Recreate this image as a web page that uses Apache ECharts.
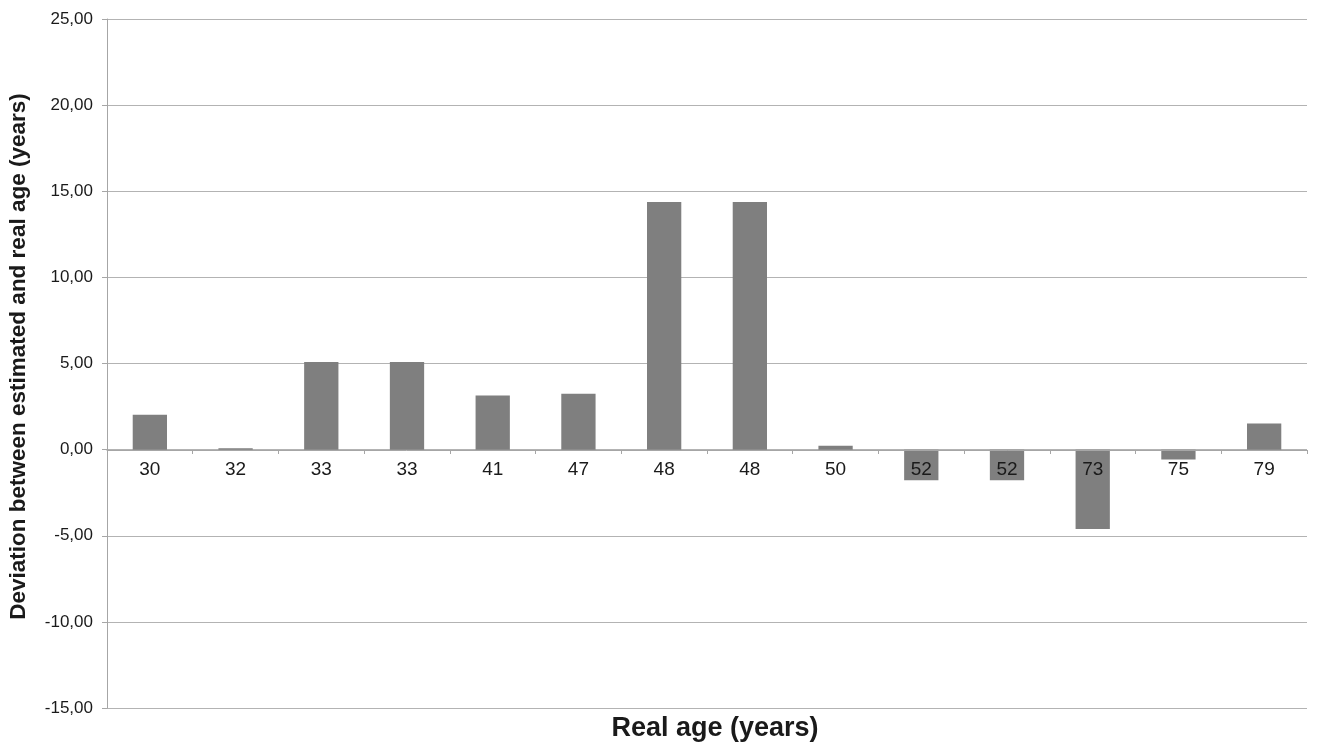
<!DOCTYPE html>
<html>
<head>
<meta charset="utf-8">
<script src="https://cdn.jsdelivr.net/npm/echarts@6/dist/echarts.min.js"></script>
<style>html,body{margin:0;padding:0;background:#fff}#c{width:1326px;height:745px}</style>
</head>
<body>
<div id="c"></div>
<script>
const categories = ['30','32','33','33','41','47','48','48','50','52','52','73','75','79'];
const deviations = [2.02, 0.08, 5.08, 5.08, 3.14, 3.24, 14.38, 14.38, 0.23, -1.78, -1.78, -4.61, -0.58, 1.51];
const yTicks = {min: -15, max: 25, interval: 5};
const xTitle = 'Real age (years)';
const yTitle = 'Deviation between estimated and real age (years)';

const chart = echarts.init(document.getElementById('c'));
chart.setOption({
  animation: false,
  title: {
    text: xTitle, left: 715, top: 715, textAlign: 'center',
    textStyle: {fontFamily: 'Liberation Sans', fontWeight: 'bold', fontSize: 27, color: '#1a1a1a'},
    padding: 0
  },
  grid: {left: 107, right: 19, top: 19, bottom: 37, outerBoundsMode: 'none', containLabel: false},
  xAxis: {
    type: 'category',
    data: categories,
    position: 'bottom',
    offset: -258,
    z: 10,
    axisLine: {onZero: false, lineStyle: {color: '#a6a6a6', width: 1}},
    axisTick: {show: true, length: 4, lineStyle: {color: '#a6a6a6'}},
    axisLabel: {fontFamily: 'Liberation Sans', fontSize: 19, color: '#1a1a1a', margin: 10, interval: 0},
    splitLine: {show: false}
  },
  yAxis: {
    type: 'value',
    min: yTicks.min, max: yTicks.max, interval: yTicks.interval,
    name: yTitle,
    nameLocation: 'middle',
    nameGap: 77,
    nameRotate: 90,
    nameTextStyle: {fontFamily: 'Liberation Sans', fontWeight: 'bold', fontSize: 22.5, color: '#1a1a1a', padding: [0, 0, 0, 14]},
    axisLine: {show: true, lineStyle: {color: '#a6a6a6'}},
    axisTick: {show: true, length: 5, lineStyle: {color: '#a6a6a6'}},
    axisLabel: {fontFamily: 'Liberation Sans', fontSize: 17, color: '#1a1a1a', margin: 14,
      formatter: v => v.toFixed(2).replace('.', ',')},
    splitLine: {show: true, lineStyle: {color: '#b3b3b3', width: 1}}
  },
  series: [{
    type: 'bar',
    data: deviations,
    barWidth: '40%',
    itemStyle: {color: '#7f7f7f'}
  }]
});
</script>
</body>
</html>
